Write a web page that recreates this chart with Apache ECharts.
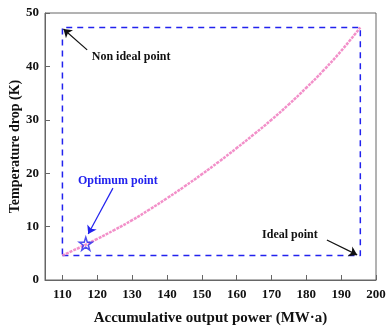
<!DOCTYPE html>
<html>
<head>
<meta charset="utf-8">
<script src="https://cdn.jsdelivr.net/npm/echarts@6/dist/echarts.min.js"></script>
<style>
  html, body { margin: 0; padding: 0; background: #fff; }
  #chart { width: 388px; height: 331px; }
</style>
</head>
<body>
<div id="chart"></div>
<script>
  // pareto front
  const powerValues = [110, 115, 120, 125, 130, 135, 140, 145, 150, 155, 160, 165, 170, 175, 180, 185, 190, 195.5];
  const dropValues = [4.6, 6.1, 7.7, 9.4, 11.2, 13.2, 15.3, 17.5, 19.8, 22.2, 24.7, 27.3, 30.0, 32.9, 36.0, 39.3, 42.9, 47.3];
  const xTicks = [110, 120, 130, 140, 150, 160, 170, 180, 190, 200];
  const idealPoint = [195.5, 4.6];
  const nonIdealPoint = [110, 47.3];
  const optimumPoint = [116.7, 6.8];
  // annotation arrows [from, to] and label anchors, in data units
  const arrowNonIdeal = [[117.1, 43.1], [110.3, 47.0]];
  const arrowIdeal = [[185.9, 7.5], [194.6, 4.7]];
  const arrowOptimum = [[124.5, 17.2], [117.4, 8.6]];
  const labelNonIdeal = [129.7, 41.8];
  const labelIdeal = [175.3, 8.4];
  const labelOptimum = [125.9, 18.5];

  const serif = '"Liberation Serif", "Times New Roman", serif';
  const frameColor = '#666';
  const boxBlue = '#2222ee';
  const starPath = 'path://M50,0 L61.8,35.4 L99,35.4 L69.1,57.3 L80.4,92.7 L50,70.8 L19.6,92.7 L30.9,57.3 L1,35.4 L38.2,35.4 Z';

  const chart = echarts.init(document.getElementById('chart'), null, { renderer: 'canvas' });

  const box = [
    [nonIdealPoint[0], idealPoint[1]],
    [idealPoint[0], idealPoint[1]],
    [idealPoint[0], nonIdealPoint[1]],
    [nonIdealPoint[0], nonIdealPoint[1]],
    [nonIdealPoint[0], idealPoint[1]],
  ];

  function arrowSeries(pair, color) {
    return {
      type: 'lines',
      coordinateSystem: 'cartesian2d',
      silent: true,
      symbol: ['none', 'arrow'],
      symbolSize: 8,
      lineStyle: { color: color, width: 1.2, opacity: 1 },
      data: [{ coords: pair }],
      z: 4,
    };
  }

  function textSeries(pos, text, color) {
    return {
      type: 'scatter',
      data: [pos],
      symbolSize: 0,
      silent: true,
      itemStyle: { opacity: 1 },
      label: {
        show: true,
        position: 'inside',
        formatter: text,
        color: color,
        textBorderWidth: 0,
        fontFamily: serif,
        fontWeight: 'bold',
        fontSize: 12,
      },
      z: 6,
    };
  }

  const option = {
    animation: false,
    grid: {
      left: 45, right: 12, top: 13, bottom: 51,
      outerBoundsMode: 'none', containLabel: false,
      show: true, borderColor: frameColor, borderWidth: 1,
    },
    xAxis: {
      type: 'value',
      min: 105,
      max: 200,
      name: 'Accumulative output power (MW·a)',
      nameLocation: 'middle',
      nameGap: 31,
      nameMoveOverlap: false,
      nameTextStyle: { fontFamily: serif, fontWeight: 'bold', fontSize: 15, color: '#111' },
      axisLine: { lineStyle: { color: frameColor } },
      axisTick: { inside: true, length: 5, customValues: xTicks, lineStyle: { color: frameColor } },
      axisLabel: { customValues: xTicks, fontFamily: serif, fontWeight: 'bold', fontSize: 13, color: '#111', margin: 8 },
      splitLine: { show: false },
    },
    yAxis: {
      type: 'value',
      min: 0,
      max: 50,
      interval: 10,
      name: 'Temperature drop (K)',
      nameLocation: 'middle',
      nameGap: 23,
      nameMoveOverlap: false,
      nameTextStyle: { fontFamily: serif, fontWeight: 'bold', fontSize: 14, color: '#111' },
      axisLine: { show: true, lineStyle: { color: frameColor } },
      axisTick: { show: true, inside: true, length: 5, lineStyle: { color: frameColor } },
      axisLabel: { fontFamily: serif, fontWeight: 'bold', fontSize: 13, color: '#111', margin: 6 },
      splitLine: { show: false },
    },
    series: [
      {
        type: 'line',
        data: box,
        symbol: 'none',
        silent: true,
        lineStyle: { color: boxBlue, width: 1.5, type: [6, 5] },
      },
      {
        type: 'line',
        data: powerValues.map((x, i) => [x, dropValues[i]]),
        symbol: 'none',
        smooth: true,
        lineStyle: { color: '#f07cc0', width: 2.5, type: [3, 1], opacity: 0.85 },
      },
      {
        type: 'scatter',
        data: [optimumPoint],
        symbol: starPath,
        symbolSize: 13,
        itemStyle: { color: 'rgba(0,0,0,0)', borderColor: boxBlue, borderWidth: 1.5 },
        z: 5,
      },
      arrowSeries(arrowNonIdeal, '#111'),
      arrowSeries(arrowIdeal, '#111'),
      arrowSeries(arrowOptimum, boxBlue),
      textSeries(labelNonIdeal, 'Non ideal point', '#111'),
      textSeries(labelIdeal, 'Ideal point', '#111'),
      textSeries(labelOptimum, 'Optimum point', boxBlue),
    ],
  };

  chart.setOption(option);
</script>
</body>
</html>
